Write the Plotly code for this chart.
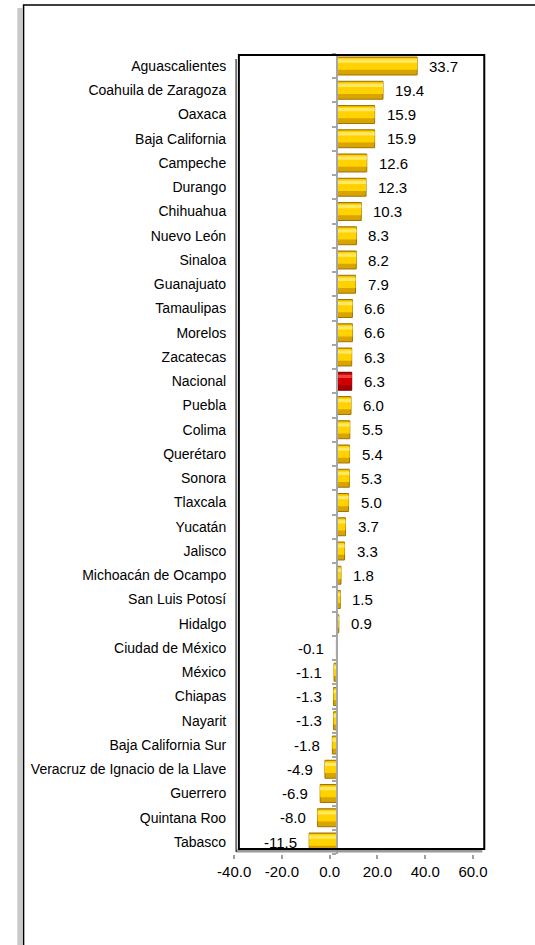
import plotly.graph_objects as go

# Data, top to bottom as in the chart
states = [
    "Aguascalientes", "Coahuila de Zaragoza", "Oaxaca", "Baja California", "Campeche",
    "Durango", "Chihuahua", "Nuevo León", "Sinaloa", "Guanajuato", "Tamaulipas",
    "Morelos", "Zacatecas", "Nacional", "Puebla", "Colima", "Querétaro", "Sonora",
    "Tlaxcala", "Yucatán", "Jalisco", "Michoacán de Ocampo", "San Luis Potosí",
    "Hidalgo", "Ciudad de México", "México", "Chiapas", "Nayarit",
    "Baja California Sur", "Veracruz de Ignacio de la Llave", "Guerrero",
    "Quintana Roo", "Tabasco",
]
values = [
    33.7, 19.4, 15.9, 15.9, 12.6, 12.3, 10.3, 8.3, 8.2, 7.9, 6.6, 6.6, 6.3, 6.3,
    6.0, 5.5, 5.4, 5.3, 5.0, 3.7, 3.3, 1.8, 1.5, 0.9, -0.1, -1.1, -1.3, -1.3,
    -1.8, -4.9, -6.9, -8.0, -11.5,
]
x_ticks = [-40, -20, 0, 20, 40, 60]

W, H = 535, 945
n = len(states)
pos = list(range(n))

def px(x):
    return x / W

def py(y):
    return 1 - y / H

# pixel geometry (row centers from 66 to 842)
step = (842 - 66) / (n - 1)
y_top = 66 - step / 2
y_bot = 842 + step / 2
zero_px = 340

base_col = ["#A80000" if s == "Nacional" else "#D9A400" for s in states]
line_col = ["#700000" if s == "Nacional" else "#9C7400" for s in states]
mid_col = ["#D00000" if s == "Nacional" else "#FFD200" for s in states]
hi_col = ["#F04040" if s == "Nacional" else "#FFE866" for s in states]

fig = go.Figure()

# cylinder-like bars: dark base, bright core, light highlight
fig.add_trace(go.Bar(
    x=values, y=pos, orientation="h", width=0.74,
    marker=dict(color=base_col, line=dict(color=line_col, width=1)),
    xaxis="x2", yaxis="y", hoverinfo="skip", showlegend=False,
))
fig.add_trace(go.Bar(
    x=values, y=pos, orientation="h", width=0.48, offset=-0.33,
    marker=dict(color=mid_col, line=dict(width=0)),
    xaxis="x2", yaxis="y", hoverinfo="skip", showlegend=False,
))
fig.add_trace(go.Bar(
    x=values, y=pos, orientation="h", width=0.14, offset=-0.27,
    marker=dict(color=hi_col, line=dict(width=0)),
    xaxis="x2", yaxis="y", hoverinfo="skip", showlegend=False,
))

# invisible traces to keep the extra axes alive
fig.add_trace(go.Scatter(
    x=[x_ticks[0], x_ticks[-1]], y=[0, 0], mode="markers",
    marker=dict(opacity=0), xaxis="x", yaxis="y", hoverinfo="skip", showlegend=False,
))
fig.add_trace(go.Scatter(
    x=[0, 0], y=[0, n - 1], mode="markers",
    marker=dict(opacity=0), xaxis="x2", yaxis="y2", hoverinfo="skip", showlegend=False,
))

# data labels
annotations = []
for i, v in enumerate(values):
    annotations.append(dict(
        x=v, y=i, xref="x2", yref="y", text=f"{v:.1f}", showarrow=False,
        xanchor="left" if v >= 0 else "right",
        xshift=10 if v >= 0 else -10,
        font=dict(family="Liberation Sans, Arial", size=15, color="#000000"),
    ))

shapes = [
    # outer frame shadow and border
    dict(type="line", xref="paper", yref="paper", x0=px(3), x1=px(3), y0=py(8), y1=py(960),
         line=dict(color="#C8C8C8", width=5)),
    dict(type="rect", xref="paper", yref="paper", x0=px(7), x1=px(560), y0=py(5), y1=py(980),
         line=dict(color="#000000", width=1.5)),
    # 3D floor of the plot area
    dict(type="line", xref="paper", yref="paper", x0=px(233), x1=px(495), y0=py(851), y1=py(851),
         line=dict(color="#9A9A9A", width=3)),
    # plot frame
    dict(type="rect", xref="paper", yref="paper", x0=px(236), x1=px(497), y0=py(55), y1=py(849),
         line=dict(color="#000000", width=2)),
    dict(type="line", xref="paper", yref="paper", x0=px(233), x1=px(233), y0=py(59), y1=py(852),
         line=dict(color="#000000", width=1)),
]

fig.update_layout(
    width=W, height=H,
    margin=dict(l=0, r=0, t=0, b=0),
    paper_bgcolor="white", plot_bgcolor="rgba(0,0,0,0)",
    barmode="overlay",
    font=dict(family="Liberation Sans, Arial", size=14, color="#000000"),
    xaxis=dict(
        domain=[px(231), px(485)], range=[-40, 60], anchor="y",
        tickvals=x_ticks, ticktext=[f"{t:.1f}" for t in x_ticks],
        ticks="outside", ticklen=4, tickcolor="#A0A0A0", tickwidth=1.5,
        showgrid=False, zeroline=False, showline=False,
        tickfont=dict(size=15),
    ),
    xaxis2=dict(
        domain=[px(zero_px - 40 * 2.54), px(zero_px + 60 * 2.54)], range=[-40, 60], anchor="y",
        visible=False, showgrid=False, zeroline=False,
    ),
    yaxis=dict(
        domain=[py(y_bot), py(y_top)], range=[n - 0.5, -0.5],
        tickvals=pos, ticktext=states, ticks="", ticklabelstandoff=7,
        showgrid=False, zeroline=False, showline=False,
        tickfont=dict(size=14),
    ),
    # category axis drawn at zero, with small ticks between categories
    yaxis2=dict(
        overlaying="y", anchor="free", position=px(zero_px), side="left",
        range=[n - 0.5, -0.5],
        tickvals=[i - 0.5 for i in range(n + 1)],
        ticks="outside", ticklen=4, tickwidth=1.5, tickcolor="#A6A6A6",
        showticklabels=False, showgrid=False, zeroline=False,
        showline=True, linecolor="#A6A6A6", linewidth=2,
    ),
    annotations=annotations,
    shapes=shapes,
)

fig.write_html(
    "out.html",
    config={"displayModeBar": False},
    post_script="document.body.style.margin='0';document.body.style.overflow='hidden';",
)
